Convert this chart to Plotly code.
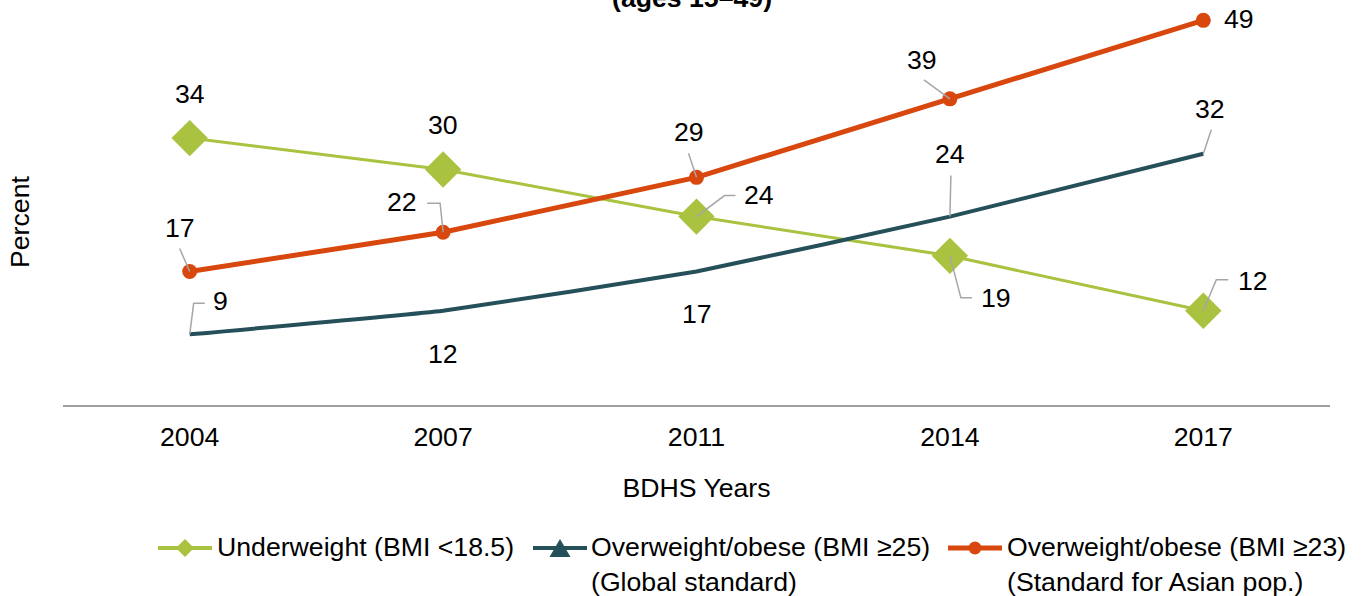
import plotly.graph_objects as go

years = ["2004", "2007", "2011", "2014", "2017"]
underweight = [34, 30, 24, 19, 12]
over_global = [9, 12, 17, 24, 32]
over_asian = [17, 22, 29, 39, 49]

names = ["Underweight (BMI <18.5)",
         "Overweight/obese (BMI ≥25)<br>(Global standard)",
         "Overweight/obese (BMI ≥23)<br>(Standard for Asian pop.)"]

GREEN = "#A9C23F"
TEAL = "#25505A"
ORANGE = "#D8470D"
LEADER = "#A6A6A6"
FONT = "Liberation Sans, Arial, sans-serif"
FS = 26.67

W, H = 1361, 596
ML, MR, MT, MB = 63, 31, 8, 191
PW, PH = W - ML - MR, H - MT - MB


def px_x(p):
    return (p - ML) / PW


def px_y(p):
    return (H - MB - p) / PH


xi = list(range(len(years)))

# label offsets (px, right / up) and leader paths (px, relative to point; up positive)
lab_under = [(0, 43), (0, 43), (62, 21), (46, -43), (50, 29)]
lead_under = [None, None, [(0, 0), (28, 21), (39, 21)], [(0, 0), (11, -42), (22, -42)],
              [(0, 0), (13, 31), (25, 31)]]
lab_glob = [(31, 32), (0, -44), (0, -43), (0, 62), (7, 44)]
lead_glob = [[(0, 0), (4, 31), (15, 31)], None, None, [(0, 0), (1, 41)], [(0, 0), (8, 24)]]
lab_asia = [(-10, 43), (-41, 29), (-8, 44), (-28, 38), (36, 0)]
lead_asia = [[(0, 0), (-10, 23)], [(0, 0), (-3, 29), (-16, 29)], [(0, 0), (-8, 24)],
             [(0, 0), (-26, 19)], None]

fig = go.Figure()

fig.add_trace(go.Scatter(x=xi, y=underweight, mode="lines+markers", name=names[0],
                         showlegend=False, line=dict(color=GREEN, width=3),
                         marker=dict(symbol="diamond", size=28, color=GREEN)))
fig.add_trace(go.Scatter(x=xi, y=over_global, mode="lines", name=names[1],
                         showlegend=False,
                         line=dict(color=TEAL, width=4, shape="spline", smoothing=0.3)))
fig.add_trace(go.Scatter(x=xi, y=over_asian, mode="lines+markers", name=names[2],
                         showlegend=False, line=dict(color=ORANGE, width=5),
                         marker=dict(symbol="circle", size=15, color=ORANGE)))

annotations = []
shapes = []
for vals, labs, leads in [(underweight, lab_under, lead_under),
                          (over_global, lab_glob, lead_glob),
                          (over_asian, lab_asia, lead_asia)]:
    for i, v in enumerate(vals):
        dx, dy = labs[i]
        annotations.append(dict(x=xi[i], y=v, xref="x", yref="y", text=str(v),
                                showarrow=False, xshift=dx, yshift=dy + 1,
                                font=dict(size=FS, color="#000000", family=FONT)))
        if leads[i]:
            pts = leads[i]
            path = "M" + " L".join(f"{px},{py}" for px, py in pts)
            shapes.append(dict(type="path", xref="x", yref="y",
                               xsizemode="pixel", ysizemode="pixel",
                               xanchor=xi[i], yanchor=v, path=path,
                               line=dict(color=LEADER, width=1.5)))

# title fragment (cut off at top as in the source)
annotations.append(dict(x=0.5, y=1, xref="paper", yref="paper", text="<b>(ages 15–49)</b>",
                        showarrow=False, yanchor="bottom", yshift=-7, xshift=-5,
                        font=dict(size=FS, color="#000000", family=FONT)))
annotations.append(dict(x=px_x(20), y=px_y(222), xref="paper", yref="paper", text="Percent",
                        textangle=-90, showarrow=False, xanchor="center", yanchor="middle",
                        font=dict(size=FS, color="#000000", family=FONT)))

# custom legend
leg_items = [
    dict(x0=158, x1=212, mx=185, text_x=215, color=GREEN, lw=4, sym="diamond"),
    dict(x0=533, x1=587, mx=560, text_x=589, color=TEAL, lw=4, sym="triangle"),
    dict(x0=948, x1=1002, mx=975, text_x=1005, color=ORANGE, lw=5, sym="circle"),
]
LEG_Y = 548
for it, name in zip(leg_items, names):
    shapes.append(dict(type="line", xref="paper", yref="paper",
                       x0=px_x(it["x0"]), x1=px_x(it["x1"]), y0=px_y(LEG_Y), y1=px_y(LEG_Y),
                       line=dict(color=it["color"], width=it["lw"])))
    if it["sym"] == "circle":
        shapes.append(dict(type="circle", xref="paper", yref="paper",
                           xsizemode="pixel", ysizemode="pixel",
                           xanchor=px_x(it["mx"]), yanchor=px_y(LEG_Y),
                           x0=-6.5, x1=6.5, y0=-6.5, y1=6.5,
                           fillcolor=it["color"], line=dict(color=it["color"], width=0)))
    else:
        if it["sym"] == "diamond":
            path = "M-9,0 L0,9 L9,0 L0,-9 Z"
        else:
            path = "M-10.5,-9 L10.5,-9 L0,9 Z"
        shapes.append(dict(type="path", xref="paper", yref="paper",
                           xsizemode="pixel", ysizemode="pixel",
                           xanchor=px_x(it["mx"]), yanchor=px_y(LEG_Y), path=path,
                           fillcolor=it["color"], line=dict(color=it["color"], width=0)))
    annotations.append(dict(x=px_x(it["text_x"]), y=px_y(LEG_Y - 18), xref="paper", yref="paper",
                            text=name, showarrow=False, xanchor="left", yanchor="top",
                            align="left",
                            font=dict(size=FS, color="#000000", family=FONT)))

fig.update_layout(
    width=W, height=H,
    margin=dict(l=ML, r=MR, t=MT, b=MB, autoexpand=False),
    paper_bgcolor="white", plot_bgcolor="white",
    font=dict(family=FONT, size=FS, color="#000000"),
    showlegend=False,
    xaxis=dict(range=[-0.5, 4.5], tickmode="array", tickvals=xi, ticktext=years,
               showgrid=False, zeroline=False, showline=True, linecolor="#A0A0A0",
               linewidth=2, ticks="", tickfont=dict(size=FS), ticklabelstandoff=7,
               title=dict(text="BDHS Years", font=dict(size=FS), standoff=27)),
    yaxis=dict(range=[0, 50.57], showgrid=False, zeroline=False, showline=False,
               showticklabels=False, ticks=""),
    annotations=annotations,
    shapes=shapes,
)

fig.write_html("out.html")
